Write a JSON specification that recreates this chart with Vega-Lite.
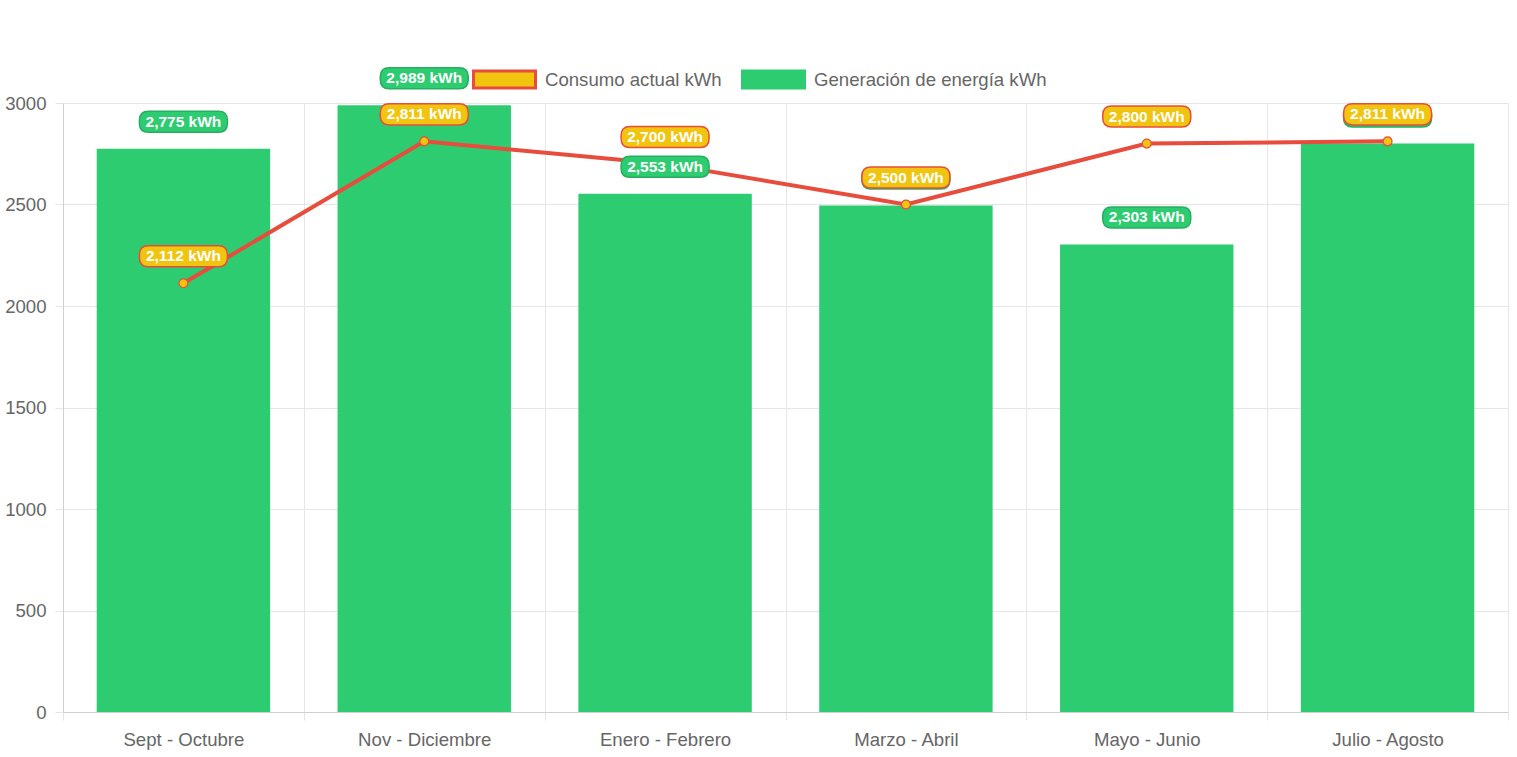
{
  "$schema": "https://vega.github.io/schema/vega-lite/v6.json",
  "width": 1445,
  "height": 609,
  "autosize": {"type": "none"},
  "padding": {"left": 63, "top": 103, "right": 9, "bottom": 45},
  "background": "white",
  "config": {
    "font": "Liberation Sans",
    "view": {"stroke": null},
    "axis": {
      "labelFont": "Liberation Sans",
      "labelFontSize": 18.6,
      "labelColor": "#666666",
      "gridColor": "#e6e6e6",
      "tickColor": "#e6e6e6",
      "domainColor": "#d0d0d0",
      "tickSize": 8,
      "title": null
    },
    "legend": {
      "labelFont": "Liberation Sans",
      "labelFontSize": 18.6,
      "labelColor": "#666666",
      "labelLimit": 0,
      "padding": 0
    }
  },
  "data": {
    "values": [
      {"periodo": "Sept - Octubre", "generacion": 2775, "consumo": 2112},
      {"periodo": "Nov - Diciembre", "generacion": 2989, "consumo": 2811},
      {"periodo": "Enero - Febrero", "generacion": 2553, "consumo": 2700},
      {"periodo": "Marzo - Abril", "generacion": 2495, "consumo": 2500},
      {"periodo": "Mayo - Junio", "generacion": 2303, "consumo": 2800},
      {"periodo": "Julio - Agosto", "generacion": 2800, "consumo": 2811}
    ]
  },
  "encoding": {
    "x": {
      "field": "periodo",
      "type": "nominal",
      "sort": null,
      "scale": {"paddingInner": 0, "paddingOuter": 0},
      "axis": {
        "labelAngle": 0,
        "tickBand": "extent",
        "grid": true,
        "labelPadding": 10
      }
    }
  },
  "layer": [
    {
      "mark": {"type": "bar", "width": {"band": 0.72}},
      "encoding": {
        "y": {
          "field": "generacion",
          "type": "quantitative",
          "scale": {"domain": [0, 3000], "nice": false},
          "axis": {"values": [0, 500, 1000, 1500, 2000, 2500, 3000], "format": "d", "grid": true, "labelPadding": 9}
        },
        "color": {
          "datum": "Generación de energía kWh",
          "type": "nominal",
          "scale": {
            "domain": ["Consumo actual kWh", "Generación de energía kWh"],
            "range": ["#f1c40f", "#2ecc71"]
          },
          "legend": {
            "title": null,
            "orient": "none",
            "direction": "horizontal",
            "legendX": 409,
            "legendY": -56,
            "symbolType": "M -1 -0.274 L 1 -0.274 L 1 0.274 L -1 0.274 Z",
            "symbolSize": 3844,
            "symbolStrokeWidth": 3,
            "symbolOpacity": 1,
            "labelOffset": 8,
            "labelLimit": 0,
            "columnPadding": 14,
            "encode": {
              "symbols": {
                "update": {
                  "stroke": {"signal": "datum.value === 'Consumo actual kWh' ? '#e74c3c' : '#2ecc71'"},
                  "strokeWidth": {"value": 3}
                }
              }
            }
          }
        }
      }
    },
    {
      "mark": {"type": "line", "color": "#e74c3c", "strokeWidth": 4},
      "encoding": {
        "y": {"field": "consumo", "type": "quantitative"}
      }
    },
    {
      "mark": {"type": "point", "filled": true, "shape": "circle", "size": 80, "stroke": "#e74c3c", "strokeWidth": 1.2, "opacity": 1},
      "encoding": {
        "y": {"field": "consumo", "type": "quantitative"},
        "color": {"datum": "Consumo actual kWh", "type": "nominal"}
      }
    },
    {
      "mark": {
        "type": "point",
        "filled": true,
        "shape": "M -0.795 -0.239 L 0.795 -0.239 Q 1 -0.239 1 -0.034 L 1 0.034 Q 1 0.239 0.795 0.239 L -0.795 0.239 Q -1 0.239 -1 0.034 L -1 -0.034 Q -1 -0.239 -0.795 -0.239 Z",
        "size": 7744,
        "fill": "#2ecc71",
        "stroke": "#27ae60",
        "strokeWidth": 1.5,
        "opacity": 1,
        "yOffset": -27
      },
      "encoding": {
        "y": {"field": "generacion", "type": "quantitative"}
      }
    },
    {
      "mark": {
        "type": "text",
        "color": "white",
        "fontWeight": "bold",
        "fontSize": 15.5,
        "baseline": "middle",
        "align": "center",
        "yOffset": -27,
        "text": {"expr": "format(datum.generacion, ',') + ' kWh'"}
      },
      "encoding": {
        "y": {"field": "generacion", "type": "quantitative"}
      }
    },
    {
      "mark": {
        "type": "point",
        "filled": true,
        "shape": "M -0.795 -0.239 L 0.795 -0.239 Q 1 -0.239 1 -0.034 L 1 0.034 Q 1 0.239 0.795 0.239 L -0.795 0.239 Q -1 0.239 -1 0.034 L -1 -0.034 Q -1 -0.239 -0.795 -0.239 Z",
        "size": 7744,
        "fill": "#f1c40f",
        "stroke": "#e74c3c",
        "strokeWidth": 1.5,
        "opacity": 1,
        "yOffset": -27
      },
      "encoding": {
        "y": {"field": "consumo", "type": "quantitative"}
      }
    },
    {
      "mark": {
        "type": "text",
        "color": "white",
        "fontWeight": "bold",
        "fontSize": 15.5,
        "baseline": "middle",
        "align": "center",
        "yOffset": -27,
        "text": {"expr": "format(datum.consumo, ',') + ' kWh'"}
      },
      "encoding": {
        "y": {"field": "consumo", "type": "quantitative"}
      }
    }
  ]
}
